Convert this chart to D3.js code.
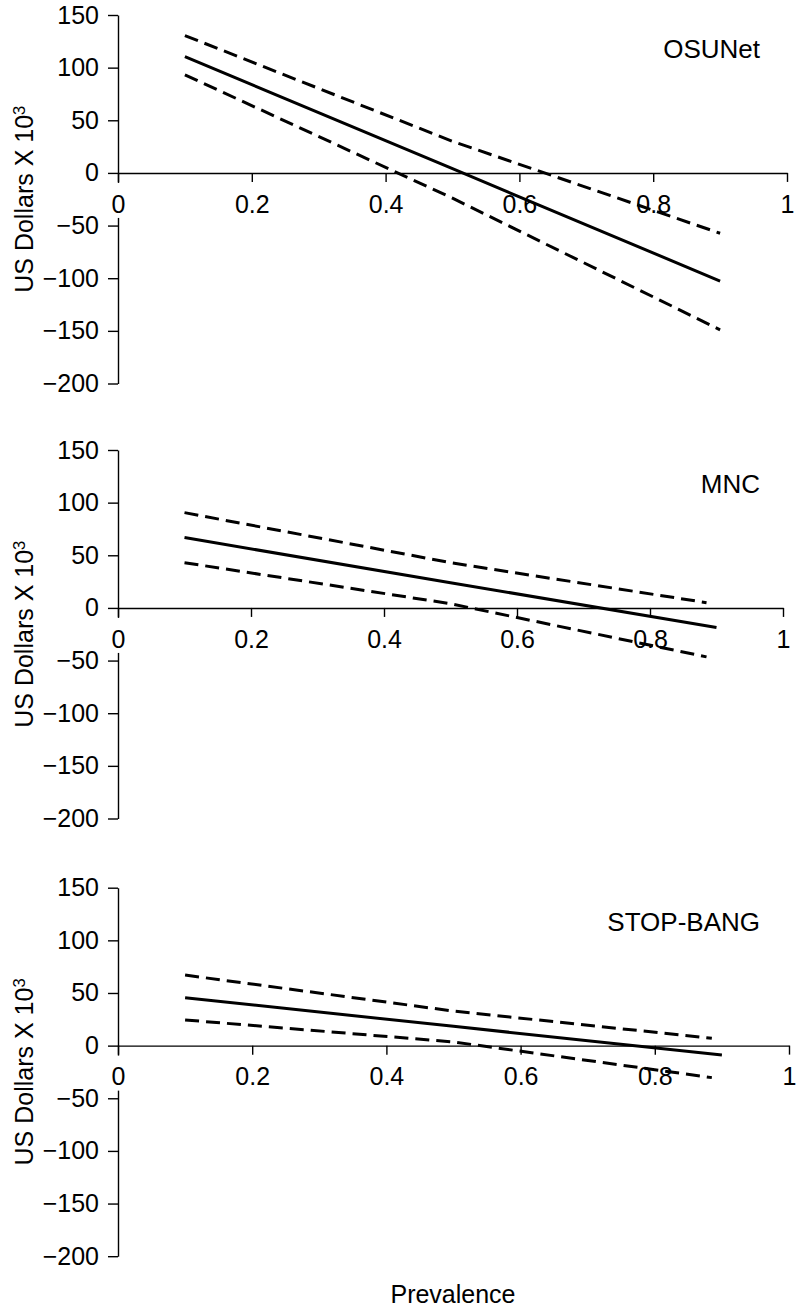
<!DOCTYPE html>
<html>
<head>
<meta charset="utf-8">
<script src="https://cdn.jsdelivr.net/npm/d3@7"></script>
<style>
  html, body { margin: 0; padding: 0; background: #fff; }
  svg { display: block; }
  text { font-family: "Liberation Sans", Arial, Helvetica, sans-serif; fill: #000; }
</style>
</head>
<body>
<svg id="chart" width="799" height="1309"></svg>
<script>
// ---- data ----
const panelNames = ["OSUNet", "MNC", "STOP-BANG"];
const xTicks = [0, 0.2, 0.4, 0.6, 0.8, 1];
const xTickLabels = ["0", "0.2", "0.4", "0.6", "0.8", "1"];
const yTicks = [150, 100, 50, 0, -50, -100, -150, -200];

// prevalence points
const prevSolid = [0.1, 0.5, 0.9];
const osunetPrevDashed = [0.1, 0.5, 0.9];
const mncPrevDashed = [0.1, 0.5, 0.885];
const stopPrevDashed = [0.1, 0.5, 0.885];

// net savings (US$ x 10^3)
const osunetMid   = [110.5, 4, -102.7];
const osunetUpper = [130.5, 30, -57.3];
const osunetLower = [93.2, -24, -149];

const mncMid   = [66.8, 24, -18.6];
const mncUpper = [90.5, 43, 5];
const mncLower = [43, 4, -46.5];

const stopMid   = [45.5, 18.3, -8.8];
const stopUpper = [67, 32.8, 7];
const stopLower = [24.4, 3.5, -30.4];

const panels = [
  { name: panelNames[0], prevDashed: osunetPrevDashed, mid: osunetMid, upper: osunetUpper, lower: osunetLower },
  { name: panelNames[1], prevDashed: mncPrevDashed, mid: mncMid, upper: mncUpper, lower: mncLower },
  { name: panelNames[2], prevDashed: stopPrevDashed, mid: stopMid, upper: stopUpper, lower: stopLower }
];

// ---- layout ----
const panelTops = [15, 450, 887.7];
const panelHeight = 368.5;
const xLeft = 118;
const xRights = [787, 783, 789];
const FONT = 25;

const svg = d3.select("#chart");

panels.forEach((p, i) => {
  const top = panelTops[i];
  const x = d3.scaleLinear().domain([0, 1]).range([xLeft, xRights[i]]);
  const y = d3.scaleLinear().domain([150, -200]).range([top, top + panelHeight]);
  const g = svg.append("g");

  // y axis
  const yAxis = d3.axisLeft(y).tickValues(yTicks).tickSize(10).tickSizeOuter(0).tickPadding(9);
  const ya = g.append("g").attr("transform", `translate(${xLeft},0)`).call(yAxis);
  ya.selectAll("path, line").attr("stroke", "#000").attr("stroke-width", 1.4);
  ya.selectAll("text").style("font-size", FONT + "px").attr("fill", "#000");

  // x axis at y = 0
  const xAxis = d3.axisBottom(x).tickValues(xTicks)
    .tickFormat((d, k) => xTickLabels[k]).tickSize(9).tickSizeOuter(0).tickPadding(13);
  const xa = g.append("g").attr("transform", `translate(0,${y(0)})`).call(xAxis);
  xa.selectAll("path, line").attr("stroke", "#000").attr("stroke-width", 1.4);
  xa.selectAll(".tick").each(function() {
    const t = d3.select(this);
    const txt = t.select("text").style("font-size", FONT + "px").attr("fill", "#000");
    const bb = txt.node().getBBox();
    t.insert("rect", "text")
      .attr("x", bb.x - 3).attr("y", 10)
      .attr("width", bb.width + 6).attr("height", 35)
      .attr("fill", "#fff");
  });

  // lines
  const solidLine = d3.line().x((d, k) => x(prevSolid[k])).y(d => y(d));
  const dashLine = d3.line().x((d, k) => x(p.prevDashed[k])).y(d => y(d));

  g.append("path").datum(p.upper).attr("d", dashLine)
    .attr("fill", "none").attr("stroke", "#000").attr("stroke-width", 3)
    .attr("stroke-dasharray", "14,7");
  g.append("path").datum(p.lower).attr("d", dashLine)
    .attr("fill", "none").attr("stroke", "#000").attr("stroke-width", 3)
    .attr("stroke-dasharray", "14,7");
  g.append("path").datum(p.mid).attr("d", solidLine)
    .attr("fill", "none").attr("stroke", "#000").attr("stroke-width", 3);

  // panel label
  g.append("text").attr("x", 760).attr("y", top + 43)
    .attr("text-anchor", "end").style("font-size", "26px").text(p.name);

  // y axis label
  const cy = top + panelHeight / 2;
  const yl = g.append("text")
    .attr("transform", `translate(33,${cy}) rotate(-90)`)
    .attr("text-anchor", "middle")
    .style("font-size", FONT + "px");
  yl.append("tspan").text("US Dollars X 10");
  yl.append("tspan").attr("dy", -8).style("font-size", "16.5px").text("3");
});

// x axis title
svg.append("text").attr("x", 453).attr("y", 1303)
  .attr("text-anchor", "middle").style("font-size", FONT + "px").text("Prevalence");
</script>
</body>
</html>
